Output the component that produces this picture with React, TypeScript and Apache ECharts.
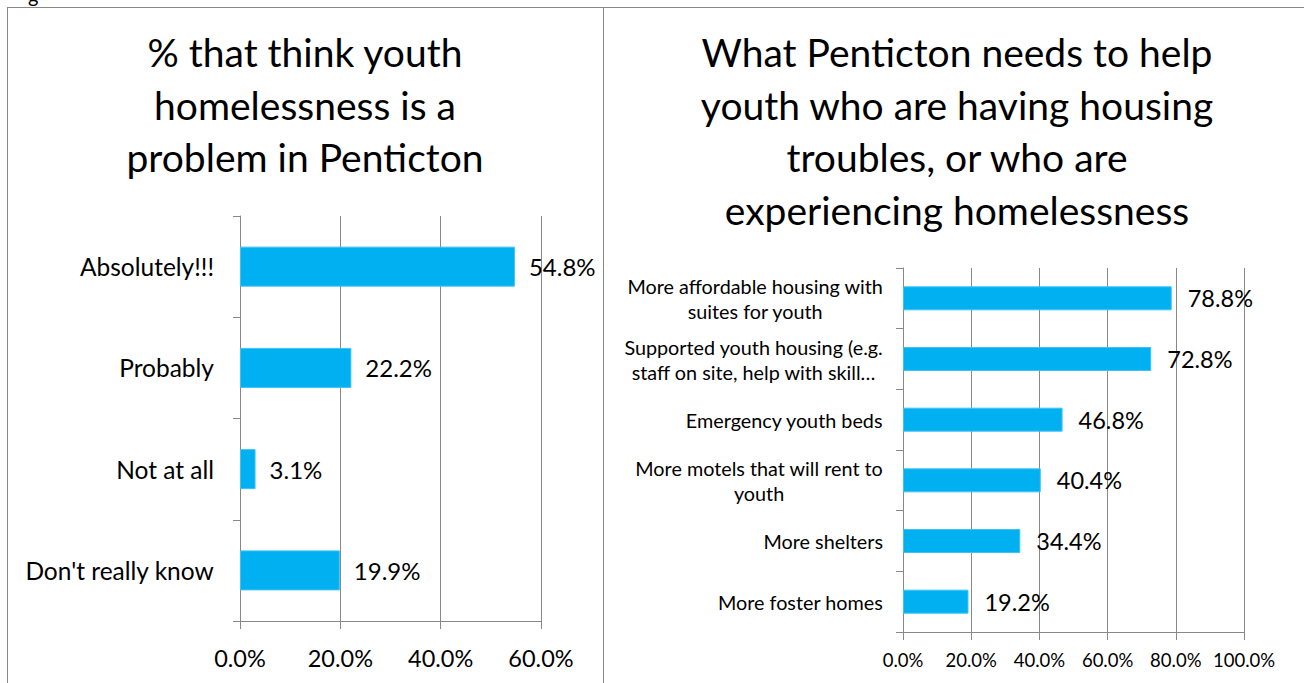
import React, { useEffect, useRef } from "react";
import * as echarts from "echarts";

const leftTitle = "% that think youth\nhomelessness is a\nproblem in Penticton";
const leftCategories = ["Absolutely!!!", "Probably", "Not at all", "Don't really know"];
const leftValues = [54.8, 22.2, 3.1, 19.9];
const leftMax = 60;

const rightTitle =
  "What Penticton needs to help\nyouth who are having housing\ntroubles, or who are\nexperiencing homelessness";
const rightCategories = [
  "More affordable housing with\nsuites for youth",
  "Supported youth housing (e.g.\nstaff on site, help with skill…",
  "Emergency youth beds",
  "More motels that will rent to\nyouth",
  "More shelters",
  "More foster homes",
];
const rightValues = [78.8, 72.8, 46.8, 40.4, 34.4, 19.2];
const rightMax = 100;
const tickStep = 20;

const FONT = "Lato, 'Open Sans', sans-serif";
const GRAY = "#888888";
const BAR = "#00B0F0";

const pct = (v: number) => v.toFixed(1) + "%";

export default function App() {
  const ref = useRef<HTMLDivElement>(null);
  useEffect(() => {
    if (!ref.current) return;
    const chart = echarts.init(ref.current, undefined, { renderer: "svg" });
    const xAxisBase = (gridIndex: number, max: number, fontSize: number, margin: number) => ({
      type: "value",
      gridIndex,
      min: 0,
      max,
      interval: tickStep,
      axisLine: { show: true, lineStyle: { color: GRAY, width: 1 } },
      axisTick: { show: true, length: 8, lineStyle: { color: GRAY } },
      splitLine: { show: true, lineStyle: { color: GRAY, width: 1 } },
      axisLabel: {
        formatter: (v: number) => pct(v),
        fontSize,
        color: "#000",
        fontFamily: FONT,
        margin,
      },
    });
    const yAxisBase = (gridIndex: number, data: string[], fontSize: number, margin: number, lh: number) => ({
      type: "category",
      gridIndex,
      inverse: true,
      data,
      axisLine: { show: true, lineStyle: { color: GRAY, width: 1 } },
      axisTick: { show: true, length: 7, alignWithLabel: false, lineStyle: { color: GRAY } },
      splitLine: { show: false },
      axisLabel: {
        fontSize,
        color: "#000",
        fontFamily: FONT,
        margin,
        lineHeight: lh,
        formatter: (v: string) =>
          v
            .split("\n")
            .map((s) => "{c|" + s + "}")
            .join("\n"),
        rich: {
          c: { align: "center", fontSize, fontFamily: FONT, color: "#000", lineHeight: lh },
        },
      },
    });
    const titleStyle = {
      fontSize: 39,
      lineHeight: 52.5,
      fontWeight: "normal",
      color: "#000",
      fontFamily: FONT,
    };
    chart.setOption({
      animation: false,
      backgroundColor: "#fff",
      title: [
        { text: leftTitle, left: 305, top: 26, textAlign: "center", padding: 0, textStyle: titleStyle },
        { text: rightTitle, left: 957, top: 26, textAlign: "center", padding: 0, textStyle: titleStyle },
      ],
      grid: [
        { left: 240, top: 216, width: 301, height: 405, outerBoundsMode: "none", containLabel: false },
        { left: 903, top: 268, width: 341, height: 364, outerBoundsMode: "none", containLabel: false },
      ],
      xAxis: [xAxisBase(0, leftMax, 23.5, 25), xAxisBase(1, rightMax, 18.5, 18)],
      yAxis: [yAxisBase(0, leftCategories, 24.5, 26, 30), yAxisBase(1, rightCategories, 19.8, 20, 25)],
      series: [
        {
          type: "bar",
          xAxisIndex: 0,
          yAxisIndex: 0,
          data: leftValues,
          barWidth: 40,
          itemStyle: { color: BAR, borderColor: "#3cc3f3", borderWidth: 1 },
          label: {
            show: true,
            position: "right",
            distance: 14,
            formatter: (p: any) => pct(p.value),
            fontSize: 24,
            color: "#000",
            fontFamily: FONT,
          },
        },
        {
          type: "bar",
          xAxisIndex: 1,
          yAxisIndex: 1,
          data: rightValues,
          barWidth: 24,
          itemStyle: { color: BAR, borderColor: "#3cc3f3", borderWidth: 1 },
          label: {
            show: true,
            position: "right",
            distance: 16,
            formatter: (p: any) => pct(p.value),
            fontSize: 23.5,
            color: "#000",
            fontFamily: FONT,
          },
        },
      ],
      graphic: [
        {
          type: "line",
          shape: { x1: 7, y1: 7.5, x2: 1304, y2: 7.5 },
          style: { stroke: GRAY, lineWidth: 1 },
          silent: true,
        },
        {
          type: "line",
          shape: { x1: 7.5, y1: 7, x2: 7.5, y2: 683 },
          style: { stroke: GRAY, lineWidth: 1 },
          silent: true,
        },
        {
          type: "line",
          shape: { x1: 603.5, y1: 7, x2: 603.5, y2: 683 },
          style: { stroke: GRAY, lineWidth: 1 },
          silent: true,
        },
        {
          type: "text",
          x: 28,
          y: 5,
          style: { text: "g", fontSize: 20, fontFamily: FONT, fill: "#000", verticalAlign: "bottom" },
          silent: true,
        },
      ],
    });
    return () => chart.dispose();
  }, []);
  return (
    <div
      ref={ref}
      style={{ position: "absolute", left: 0, top: 0, width: 1304, height: 683, background: "#fff" }}
    />
  );
}
